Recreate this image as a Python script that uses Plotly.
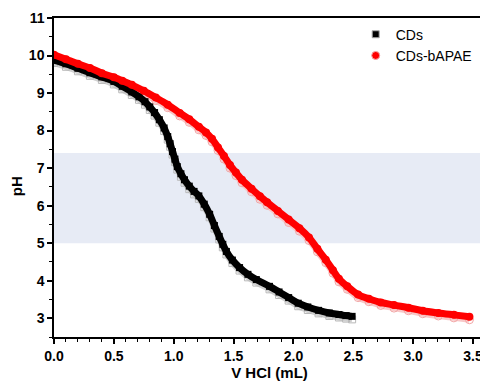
import plotly.graph_objects as go

# CDs (black)
cds_v = [0.0, 0.1, 0.2, 0.3, 0.4, 0.5, 0.57, 0.65, 0.71, 0.76, 0.80, 0.84, 0.88, 0.92,
         0.95, 0.97, 0.99, 1.01, 1.03, 1.06, 1.09, 1.13, 1.17, 1.21, 1.255, 1.30, 1.34,
         1.38, 1.41, 1.44, 1.49, 1.55, 1.62, 1.69, 1.80, 1.88, 1.96, 2.04, 2.12, 2.21,
         2.30, 2.38, 2.44, 2.49]
cds_ph = [9.88, 9.78, 9.66, 9.54, 9.43, 9.31, 9.18, 9.03, 8.90, 8.77, 8.63, 8.48, 8.29, 8.07,
          7.84, 7.65, 7.44, 7.24, 7.04, 6.85, 6.69, 6.52, 6.38, 6.26, 6.04, 5.77, 5.47,
          5.18, 4.97, 4.78, 4.55, 4.35, 4.17, 4.03, 3.85, 3.70, 3.55, 3.40, 3.30, 3.21,
          3.14, 3.10, 3.07, 3.05]

# CDs-bAPAE (red)
apae_v = [0.0, 0.1, 0.2, 0.3, 0.4, 0.5, 0.57, 0.65, 0.75, 0.85, 0.95, 1.05, 1.13, 1.21,
          1.27, 1.32, 1.37, 1.42, 1.47, 1.52, 1.57, 1.65, 1.72, 1.78, 1.87, 1.96, 2.05,
          2.13, 2.20, 2.27, 2.33, 2.38, 2.45, 2.54, 2.63, 2.73, 2.84, 2.96, 3.08, 3.21,
          3.34, 3.47]
apae_ph = [10.02, 9.90, 9.78, 9.67, 9.53, 9.42, 9.33, 9.22, 9.06, 8.88, 8.69, 8.47, 8.30, 8.10,
           7.95, 7.78, 7.55, 7.32, 7.08, 6.88, 6.69, 6.45, 6.25, 6.09, 5.86, 5.63, 5.40,
           5.15, 4.85, 4.56, 4.28, 4.05, 3.85, 3.63, 3.52, 3.42, 3.35, 3.28, 3.20, 3.14,
           3.09, 3.04]

band_low, band_high = 5.0, 7.4
x_range = [0, 3.6]
y_range = [2.5, 11]
shadow_shift = 0.08

font_family = "Arial, Liberation Sans, sans-serif"

fig = go.Figure()

# shadow traces (pale lower edge of half-filled markers) on hidden base axis
fig.add_trace(go.Scatter(x=cds_v, y=cds_ph, mode="lines+markers", yaxis="y",
                         line=dict(color="#d0d0d0", width=6, shape="spline"),
                         marker=dict(symbol="square-open", size=7, color="#b8b8b8"),
                         showlegend=False, hoverinfo="skip"))
fig.add_trace(go.Scatter(x=apae_v, y=apae_ph, mode="lines+markers", yaxis="y",
                         line=dict(color="#f8c8c8", width=6, shape="spline"),
                         marker=dict(symbol="circle-open", size=8, color="#f2a4a4"),
                         showlegend=False, hoverinfo="skip"))

# main traces on visible overlaying axis
fig.add_trace(go.Scatter(x=cds_v, y=cds_ph, mode="lines+markers", yaxis="y2",
                         line=dict(color="black", width=7, shape="spline"),
                         marker=dict(symbol="square", size=7, color="black"),
                         showlegend=False, name="CDs"))
fig.add_trace(go.Scatter(x=apae_v, y=apae_ph, mode="lines+markers", yaxis="y2",
                         line=dict(color="#ff0000", width=7, shape="spline"),
                         marker=dict(symbol="circle", size=8, color="#ff0000"),
                         showlegend=False, name="CDs-bAPAE"))

# legend entries
fig.add_trace(go.Scatter(x=[None], y=[None], mode="markers", name="CDs", yaxis="y2",
                         marker=dict(symbol="square", size=7, color="black",
                                     line=dict(color="#aaaaaa", width=1))))
fig.add_trace(go.Scatter(x=[None], y=[None], mode="markers", name="CDs-bAPAE", yaxis="y2",
                         marker=dict(symbol="circle", size=8, color="#ff0000",
                                     line=dict(color="#f3a8a8", width=1))))

fig.add_shape(type="rect", xref="paper", x0=0, x1=1, yref="y2", y0=band_low, y1=band_high,
              fillcolor="#e7ebf5", line=dict(width=0), layer="below")

fig.add_annotation(text="<b>pH</b>", xref="paper", yref="paper", x=-0.088, y=0.473,
                   textangle=-90, showarrow=False, font=dict(size=15, family=font_family),
                   xanchor="center", yanchor="middle")

axis_font = dict(size=14, family=font_family, weight="bold")

fig.update_layout(
    width=480, height=375,
    margin=dict(l=46, r=1, t=10, b=46),
    paper_bgcolor="white", plot_bgcolor="white",
    font=dict(family=font_family, color="black"),
    legend=dict(x=0.70, y=0.998, xanchor="left", yanchor="top",
                bgcolor="rgba(0,0,0,0)", font=dict(size=14, family=font_family),
                itemsizing="trace", tracegroupgap=0),
    xaxis=dict(range=x_range, tickmode="array",
               tickvals=[0, 0.5, 1.0, 1.5, 2.0, 2.5, 3.0, 3.5],
               ticktext=["0.0", "0.5", "1.0", "1.5", "2.0", "2.5", "3.0", "3.5"],
               ticks="outside", ticklen=5, tickwidth=1.5, tickcolor="black",
               showline=True, linecolor="black", linewidth=1.5, mirror=True,
               showgrid=False, zeroline=False,
               tickfont=axis_font,
               minor=dict(dtick=0.1, tick0=0, ticks="outside", ticklen=3,
                          tickwidth=1, tickcolor="black", showgrid=False),
               title=dict(text="<b>V HCl (mL)</b>", font=dict(size=15), standoff=0)),
    yaxis=dict(range=[y_range[0] + shadow_shift, y_range[1] + shadow_shift],
               visible=False, showgrid=False, zeroline=False),
    yaxis2=dict(range=y_range, overlaying="y", side="left", tickmode="array",
                tickvals=[3, 4, 5, 6, 7, 8, 9, 10, 11],
                ticks="outside", ticklen=5, tickwidth=1.5, tickcolor="black",
                showline=True, linecolor="black", linewidth=1.5, mirror=True,
                showgrid=False, zeroline=False,
                tickfont=axis_font,
                minor=dict(dtick=0.5, tick0=0, ticks="outside", ticklen=3,
                           tickwidth=1, tickcolor="black", showgrid=False)),
)

fig.write_html("out.html")
